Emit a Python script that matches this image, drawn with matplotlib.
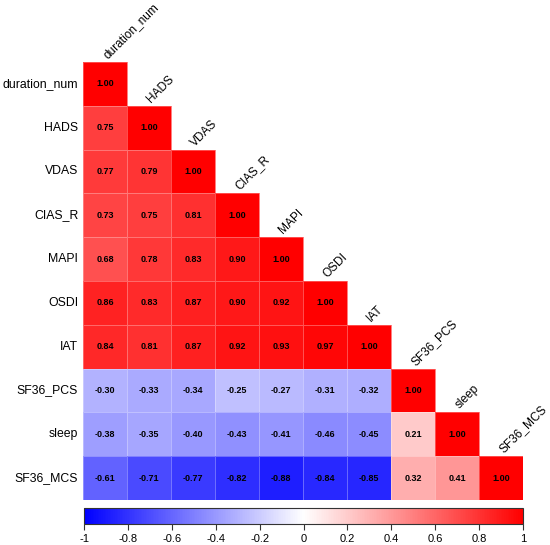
import numpy as np
import matplotlib
matplotlib.use("Agg")
import matplotlib.pyplot as plt
from matplotlib.colors import LinearSegmentedColormap, Normalize
import matplotlib.colorbar as mcolorbar

plt.rcParams['font.family'] = ['Liberation Sans', 'DejaVu Sans']

variables = ["duration_num", "HADS", "VDAS", "CIAS_R", "MAPI", "OSDI", "IAT",
             "SF36_PCS", "sleep", "SF36_MCS"]

row_HADS = [0.75]
row_VDAS = [0.77, 0.79]
row_CIAS_R = [0.73, 0.75, 0.81]
row_MAPI = [0.68, 0.78, 0.83, 0.90]
row_OSDI = [0.86, 0.83, 0.87, 0.90, 0.92]
row_IAT = [0.84, 0.81, 0.87, 0.92, 0.93, 0.97]
row_SF36_PCS = [-0.30, -0.33, -0.34, -0.25, -0.27, -0.31, -0.32]
row_sleep = [-0.38, -0.35, -0.40, -0.43, -0.41, -0.46, -0.45, 0.21]
row_SF36_MCS = [-0.61, -0.71, -0.77, -0.82, -0.88, -0.84, -0.85, 0.32, 0.41]

lower_rows = [[], row_HADS, row_VDAS, row_CIAS_R, row_MAPI, row_OSDI, row_IAT,
              row_SF36_PCS, row_sleep, row_SF36_MCS]

colorbar_ticks = [-1, -0.8, -0.6, -0.4, -0.2, 0, 0.2, 0.4, 0.6, 0.8, 1]
colorbar_labels = ["-1", "-0.8", "-0.6", "-0.4", "-0.2", "0", "0.2", "0.4", "0.6", "0.8", "1"]

n = len(variables)
mat = np.full((n, n), np.nan)
for i, r in enumerate(lower_rows):
    for j, v in enumerate(r):
        mat[i, j] = v
    mat[i, i] = 1.0

cmap = LinearSegmentedColormap.from_list("bwr2", ["#0000FF", "#FFFFFF", "#FF0000"])
norm = Normalize(-1, 1)

W, H = 550, 545
fig = plt.figure(figsize=(W / 100, H / 100), dpi=100)

left, right, top, bottom = 83, 523, 62, 500
ax = fig.add_axes([left / W, 1 - bottom / H, (right - left) / W, (bottom - top) / H])
masked = np.ma.masked_invalid(mat)
ax.pcolormesh(np.arange(n + 1), np.arange(n + 1), masked, cmap=cmap, norm=norm,
              edgecolors=(1, 1, 1, 0.3), linewidth=0.4)
ax.set_xlim(0, n)
ax.set_ylim(n, 0)
ax.axis('off')

for i in range(n):
    for j in range(i + 1):
        ax.text(j + 0.5, i + 0.5, f"{mat[i, j]:.2f}", ha='center', va='center',
                fontsize=6.5, fontweight='bold', color='black')
    # row label
    ax.text(-0.11, i + 0.5, variables[i], ha='right', va='center', fontsize=8.8,
            color='black')
    # column label above diagonal
    ax.text(i + 0.55, i - 0.07, variables[i], ha='left', va='baseline', rotation=45,
            rotation_mode='anchor', fontsize=8.6, color='black')

# colorbar
cax = fig.add_axes([84 / W, 1 - 524 / H, (523 - 84) / W, 16 / H])
cb = mcolorbar.ColorbarBase(cax, cmap=cmap, norm=norm, orientation='horizontal')
cb.set_ticks(colorbar_ticks)
cb.set_ticklabels(colorbar_labels)
cb.outline.set_edgecolor('#333333')
cb.outline.set_linewidth(0.8)
cax.tick_params(axis='x', direction='out', length=4, width=0.8, labelsize=8,
                color='#333333', pad=3)

fig.savefig("out.png", dpi=100)
